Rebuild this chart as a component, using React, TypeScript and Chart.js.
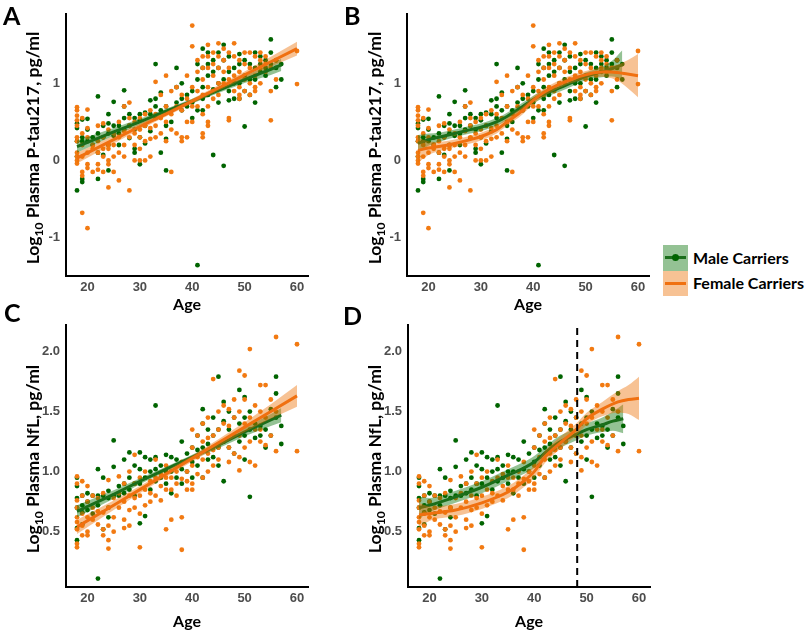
import React, { useEffect, useRef } from 'react';
import { Chart, registerables } from 'chart.js';
Chart.register(...registerables);

// ---------- axis settings ----------
const ageRange = [15.9, 62.1];
const ageTicks = [20, 30, 40, 50, 60];
const ptauRange = [-1.5, 1.9];
const ptauTicks = [-1, 0, 1];
const ptauTickLabels = ['-1', '0', '1'];
const nflRange = [0.04, 2.22];
const nflTicks = [0.5, 1.0, 1.5, 2.0];
const nflTickLabels = ['0.5', '1.0', '1.5', '2.0'];
const nflThresholdAge = 48.2;

type Col = [number, number[]];
type FitRow = [number, number, number]; // age, fit, half-width of CI

// ---------- P-tau217 observations ----------
const ptauMale: Col[] = [
  [18, [0.48, 0.42, 0.25, 0.05, -0.39]],
  [19, [0.53, 0.30, 0.25, -0.24, -0.28]],
  [20, [0.54, 0.40, 0.25]],
  [21, [0.30, 0.20]],
  [22, [0.83, 0.35, 0.10, -0.24]],
  [23, [0.45, 0.30, 0.07]],
  [24, [0.60, 0.48, 0.35, 0.20, -0.13]],
  [25, [0.76, 0.45, 0.32]],
  [26, [0.45, 0.35, 0.20]],
  [27, [0.91, 0.70, 0.55, 0.40]],
  [28, [0.60, 0.45, 0.29]],
  [29, [0.55, 0.40, 0.15, 0.10]],
  [30, [0.60, 0.52, 0.30, -0.05]],
  [31, [0.62, 0.45, 0.22]],
  [32, [0.78, 0.60, 0.38]],
  [33, [1.25, 0.80, 0.70, 0.55]],
  [34, [0.88, 0.65, 0.10]],
  [35, [0.70, 0.45, 0.28, -0.13]],
  [36, [0.65, 0.50]],
  [37, [1.20, 0.95, 0.75]],
  [38, [1.00, 0.80, 0.65]],
  [39, [0.85, 0.70]],
  [40, [0.90, 0.75, 0.55]],
  [41, [1.25, 1.05, 0.65, -1.36]],
  [42, [1.45, 1.20, 0.95, 0.80, 0.65]],
  [43, [1.40, 1.25, 1.10, 0.85]],
  [44, [1.30, 1.15, 0.92, 0.07]],
  [45, [1.40, 1.20, 1.00, 0.75]],
  [46, [1.50, 1.30, 1.05, -0.07]],
  [47, [1.35, 1.15, 0.90, 0.78]],
  [48, [1.20, 1.00, 0.80]],
  [49, [1.38, 1.25, 1.00, 0.80]],
  [50, [1.30, 1.10, 0.90, 0.44]],
  [51, [1.25, 1.05, 0.85]],
  [52, [1.40, 1.20, 1.05, 0.75]],
  [53, [1.35, 1.25, 1.15]],
  [54, [1.30, 1.20, 1.10]],
  [55, [1.57, 1.40, 1.25]],
  [56, [1.30, 1.20, 0.95]],
  [57, [1.25, 1.05]],
];

const ptauFemale: Col[] = [
  [18, [0.69, 0.65, 0.58, 0.52, 0.45, 0.30, 0.25, 0.10, 0.05, 0.0, -0.04]],
  [19, [0.55, 0.35, 0.20, 0.05, -0.15, -0.20, -0.68]],
  [20, [0.66, 0.42, 0.30, 0.10, -0.05, -0.10, -0.88]],
  [21, [0.20, 0.15, -0.15]],
  [22, [0.45, 0.25, 0.10, -0.05, -0.12]],
  [23, [0.48, 0.30, 0.15, 0.05, -0.15]],
  [24, [0.40, 0.20, 0.15, 0.0, -0.05, -0.35]],
  [25, [0.35, 0.20, 0.05, -0.15]],
  [26, [0.50, 0.30, 0.10, -0.26]],
  [27, [0.70, 0.38, 0.20, 0.05]],
  [28, [0.75, 0.55, 0.45, 0.30, -0.39]],
  [29, [0.50, 0.35, 0.20, 0.0]],
  [30, [0.55, 0.40, 0.30, 0.15, 0.0]],
  [31, [0.60, 0.45, 0.25, 0.0]],
  [32, [0.65, 0.42, 0.28, 0.05]],
  [33, [1.02, 0.60, 0.45, 0.30]],
  [34, [0.85, 0.55, 0.35]],
  [35, [1.10, 0.70, 0.50, 0.25]],
  [36, [0.90, 0.60, 0.40, -0.15]],
  [37, [0.95, 0.70, 0.35]],
  [38, [0.85, 0.65, 0.30, 0.25]],
  [39, [1.10, 0.80, 0.50, 0.30]],
  [40, [1.75, 1.48, 0.95, 0.70, 0.50]],
  [41, [1.30, 1.15, 0.90, 0.70]],
  [42, [1.35, 1.20, 1.05, 0.85, 0.60, 0.35, 0.30]],
  [43, [1.50, 1.35, 1.20, 0.95, 0.70, 0.50, 0.45]],
  [44, [1.40, 1.25, 1.10, 0.90, 0.80]],
  [45, [1.52, 1.35, 1.20, 1.00, 0.85]],
  [46, [1.45, 1.30, 1.15, 1.00]],
  [47, [1.40, 1.20, 1.05, 0.55, 0.52]],
  [48, [1.52, 1.35, 1.10, 0.90]],
  [49, [1.30, 1.15, 0.95, 0.85, 0.80]],
  [50, [1.40, 1.25, 1.05, 0.90]],
  [51, [1.40, 1.20, 1.00, 0.85]],
  [52, [1.35, 1.10, 0.95, 0.90]],
  [53, [1.40, 1.30, 1.20, 1.00]],
  [54, [1.35, 1.25, 1.15]],
  [55, [1.20, 0.90, 0.52]],
  [56, [1.30, 1.05]],
  [60, [1.42, 0.99]],
];

// ---------- NfL observations ----------
const nflMale: Col[] = [
  [18, [0.95, 0.88, 0.78, 0.70, 0.53, 0.43]],
  [19, [0.80, 0.72, 0.66, 0.56]],
  [20, [0.82, 0.75, 0.68]],
  [21, [0.80, 0.65]],
  [22, [1.02, 0.80, 0.72, 0.11]],
  [23, [0.95, 0.80, 0.52]],
  [24, [0.84, 0.78, 0.70, 0.62]],
  [25, [1.26, 1.04, 0.80]],
  [26, [0.88, 0.80]],
  [27, [1.10, 0.90, 0.82]],
  [28, [1.16, 0.95, 0.85]],
  [29, [1.05, 0.90, 0.80]],
  [30, [1.16, 1.02, 0.90, 0.57]],
  [31, [1.12, 0.95, 0.63]],
  [32, [1.10, 1.00, 0.85]],
  [33, [1.55, 1.12, 1.02, 0.92]],
  [34, [1.05, 0.95]],
  [35, [1.14, 1.00, 0.90]],
  [36, [1.12, 1.00, 0.82]],
  [37, [1.10, 0.95]],
  [38, [1.25, 1.02, 0.90]],
  [39, [1.15, 1.00]],
  [40, [1.20, 1.08, 0.95]],
  [41, [1.30, 1.18, 1.05]],
  [42, [1.52, 1.40, 1.20, 0.95]],
  [43, [1.35, 1.23, 1.10]],
  [44, [1.45, 1.30, 1.12]],
  [45, [1.79, 1.35, 1.20, 1.05]],
  [46, [1.58, 1.42, 1.25, 0.92]],
  [47, [1.50, 1.35, 1.20]],
  [48, [1.45, 1.30, 1.15]],
  [49, [1.68, 1.40, 1.25]],
  [50, [1.62, 1.45, 1.30, 1.10]],
  [51, [1.50, 1.35, 0.79]],
  [52, [1.40, 1.28]],
  [53, [1.38, 1.30]],
  [54, [1.35, 1.20]],
  [55, [1.52, 1.30]],
  [56, [1.79, 1.65, 1.45]],
  [57, [1.38, 1.23]],
];

const nflFemale: Col[] = [
  [18, [0.96, 0.90, 0.76, 0.70, 0.62, 0.58, 0.52, 0.40, 0.37]],
  [19, [0.92, 0.80, 0.65, 0.55, 0.47]],
  [20, [0.88, 0.75, 0.62, 0.50, 0.47]],
  [21, [0.80, 0.70, 0.60]],
  [22, [0.78, 0.67, 0.56]],
  [23, [0.82, 0.66, 0.52, 0.47]],
  [24, [0.93, 0.70, 0.55, 0.43, 0.36]],
  [25, [0.78, 0.62, 0.50]],
  [26, [0.96, 0.82, 0.70]],
  [27, [0.90, 0.75, 0.60, 0.53]],
  [28, [1.00, 0.80, 0.68, 0.55]],
  [29, [1.14, 0.90, 0.78, 0.70]],
  [30, [0.95, 0.80, 0.65, 0.37]],
  [31, [1.00, 0.85, 0.72]],
  [32, [0.92, 0.82, 0.75]],
  [33, [1.10, 0.95, 0.80]],
  [34, [0.98, 0.88, 0.76]],
  [35, [1.05, 0.95, 0.85, 0.52]],
  [36, [0.95, 0.85, 0.60]],
  [37, [1.00, 0.90, 0.80]],
  [38, [1.08, 0.94, 0.62, 0.35]],
  [39, [1.00, 0.92, 0.85]],
  [40, [1.35, 1.20, 1.05, 0.90, 0.85]],
  [41, [1.30, 1.12, 0.98]],
  [42, [1.40, 1.25, 1.10, 0.95]],
  [43, [1.45, 1.28, 1.15, 1.00]],
  [44, [1.77, 1.30, 1.18, 1.05]],
  [45, [1.50, 1.35, 1.20, 1.10]],
  [46, [1.55, 1.40, 1.25]],
  [47, [1.52, 1.38, 1.20, 1.08]],
  [48, [1.60, 1.45, 1.30, 1.15]],
  [49, [1.84, 1.50, 1.30, 1.12, 1.01]],
  [50, [1.80, 1.60, 1.40, 1.20]],
  [51, [2.02, 1.45, 1.25, 1.08]],
  [52, [1.55, 1.35, 1.05]],
  [53, [1.72, 1.50, 1.35, 1.25]],
  [54, [1.72, 1.45, 1.22]],
  [55, [1.60, 1.30]],
  [56, [2.12, 1.50, 1.17]],
  [60, [2.06, 1.17]],
];

// ---------- fitted curves (age, fit, CI half-width) ----------
const ptauLinearMale: FitRow[] = [
  [18, 0.18, 0.08], [25, 0.37, 0.05], [30, 0.50, 0.04], [35, 0.64, 0.03], [40, 0.77, 0.03],
  [45, 0.91, 0.035], [50, 1.05, 0.045], [55, 1.18, 0.07], [57, 1.24, 0.08],
];
const ptauLinearFemale: FitRow[] = [
  [18, 0.03, 0.07], [25, 0.27, 0.05], [30, 0.44, 0.04], [35, 0.60, 0.03], [40, 0.77, 0.03],
  [45, 0.94, 0.035], [50, 1.11, 0.045], [55, 1.28, 0.065], [60, 1.45, 0.09],
];
const ptauSmoothMale: FitRow[] = [
  [18, 0.22, 0.11], [20, 0.27, 0.08], [22, 0.30, 0.06], [25, 0.35, 0.05], [28, 0.40, 0.05],
  [30, 0.43, 0.05], [33, 0.50, 0.05], [35, 0.57, 0.05], [38, 0.70, 0.05], [40, 0.79, 0.05],
  [42, 0.86, 0.05], [45, 0.94, 0.05], [48, 1.03, 0.05], [50, 1.09, 0.05], [52, 1.13, 0.06],
  [55, 1.19, 0.10], [57, 1.24, 0.19],
];
const ptauSmoothFemale: FitRow[] = [
  [18, 0.13, 0.16], [20, 0.16, 0.09], [22, 0.18, 0.06], [25, 0.22, 0.05], [28, 0.27, 0.05],
  [30, 0.31, 0.05], [33, 0.40, 0.05], [35, 0.50, 0.05], [38, 0.65, 0.05], [40, 0.78, 0.05],
  [42, 0.88, 0.05], [45, 0.99, 0.05], [48, 1.07, 0.05], [50, 1.11, 0.05], [52, 1.14, 0.05],
  [54, 1.15, 0.07], [56, 1.14, 0.10], [58, 1.12, 0.18], [60, 1.10, 0.28],
];
const nflLinearMale: FitRow[] = [
  [18, 0.67, 0.05], [25, 0.81, 0.035], [30, 0.92, 0.025], [35, 1.02, 0.02], [40, 1.12, 0.02],
  [45, 1.22, 0.025], [50, 1.33, 0.035], [55, 1.43, 0.05], [57, 1.47, 0.06],
];
const nflLinearFemale: FitRow[] = [
  [18, 0.54, 0.06], [25, 0.72, 0.04], [30, 0.85, 0.03], [35, 0.98, 0.025], [40, 1.11, 0.025],
  [45, 1.24, 0.03], [50, 1.37, 0.04], [55, 1.50, 0.06], [60, 1.63, 0.09],
];
const nflSmoothMale: FitRow[] = [
  [18, 0.70, 0.09], [20, 0.72, 0.06], [25, 0.79, 0.05], [30, 0.87, 0.05], [35, 0.97, 0.05],
  [38, 1.03, 0.05], [40, 1.08, 0.05], [43, 1.19, 0.05], [45, 1.25, 0.05], [48, 1.31, 0.05],
  [50, 1.35, 0.05], [53, 1.39, 0.06], [55, 1.42, 0.08], [57, 1.44, 0.12],
];
const nflSmoothFemale: FitRow[] = [
  [18, 0.64, 0.10], [20, 0.65, 0.06], [25, 0.68, 0.05], [30, 0.74, 0.05], [35, 0.83, 0.05],
  [38, 0.92, 0.05], [40, 1.00, 0.05], [42, 1.12, 0.05], [45, 1.24, 0.05], [48, 1.35, 0.05],
  [50, 1.44, 0.05], [53, 1.52, 0.06], [56, 1.58, 0.09], [58, 1.60, 0.12], [60, 1.61, 0.18],
];

// ---------- styles ----------
const maleColor = '#006400';
const femaleColor = '#F27A12';
const maleLine = '#1B6E1B';
const femaleLine = '#F07010';
const maleBand = 'rgba(0,110,0,0.42)';
const femaleBand = 'rgba(235,110,0,0.42)';
const tickFont = { family: 'Liberation Sans, Arial, sans-serif', weight: 'bold' as const, size: 13 };
const titleFamily = 'Lato';

const pts = (cols: Col[]) => cols.flatMap(([a, vs]) => vs.map((v) => ({ x: a, y: v })));

function buildDatasets(male: Col[], female: Col[], mFit: FitRow[], fFit: FitRow[], smooth: boolean, vline: number | null, yr: number[]) {
  const curve = smooth ? { tension: 0.4, cubicInterpolationMode: 'monotone' as const } : { tension: 0 };
  const ds: any[] = [];
  ds.push({ data: pts(male), showLine: false, pointRadius: 2.4, pointBackgroundColor: maleColor, pointBorderWidth: 0, order: 9 });
  ds.push({ data: pts(female), showLine: false, pointRadius: 2.4, pointBackgroundColor: femaleColor, pointBorderWidth: 0, order: 8 });
  const mLo = ds.length;
  ds.push({ data: mFit.map(([a, f, h]) => ({ x: a, y: f - h })), borderWidth: 0, pointRadius: 0, fill: false, order: 7, ...curve });
  ds.push({ data: mFit.map(([a, f, h]) => ({ x: a, y: f + h })), borderWidth: 0, pointRadius: 0, fill: mLo, backgroundColor: maleBand, order: 6, ...curve });
  ds.push({ data: mFit.map(([a, f]) => ({ x: a, y: f })), borderWidth: 3, borderColor: maleLine, pointRadius: 0, fill: false, order: 5, ...curve });
  const fLo = ds.length;
  ds.push({ data: fFit.map(([a, f, h]) => ({ x: a, y: f - h })), borderWidth: 0, pointRadius: 0, fill: false, order: 4, ...curve });
  ds.push({ data: fFit.map(([a, f, h]) => ({ x: a, y: f + h })), borderWidth: 0, pointRadius: 0, fill: fLo, backgroundColor: femaleBand, order: 3, ...curve });
  ds.push({ data: fFit.map(([a, f]) => ({ x: a, y: f })), borderWidth: 3, borderColor: femaleLine, pointRadius: 0, fill: false, order: 2, ...curve });
  if (vline !== null) {
    ds.push({ data: [{ x: vline, y: yr[0] }, { x: vline, y: yr[1] }], borderWidth: 2, borderColor: '#000', borderDash: [7, 5], pointRadius: 0, fill: false, order: 1 });
  }
  return ds;
}

type PanelProps = {
  left: number; top: number; width: number; height: number;
  yAxisWidth: number; xAxisHeight: number; padTop: number; padRight: number;
  letter: string; letterX: number; letterY: number; titleX: number; titleRest: string;
  male: Col[]; female: Col[]; mFit: FitRow[]; fFit: FitRow[]; smooth: boolean; vline: number | null;
  yRange: number[]; yTicks: number[]; yLabels: string[];
};

function Panel(p: PanelProps) {
  const ref = useRef<HTMLCanvasElement>(null);
  useEffect(() => {
    if (!ref.current) return;
    const decor = {
      id: 'decor',
      afterDraw(chart: any) {
        const { ctx, chartArea } = chart;
        ctx.save();
        ctx.fillStyle = '#000';
        ctx.textBaseline = 'alphabetic';
        ctx.textAlign = 'left';
        ctx.font = `bold 25px ${titleFamily}`;
        ctx.fillText(p.letter, p.letterX, p.letterY);
        const big = `bold 17.5px ${titleFamily}`;
        const small = `bold 12px ${titleFamily}`;
        ctx.font = big;
        const w1 = ctx.measureText('Log').width;
        const w3 = ctx.measureText(p.titleRest).width;
        ctx.font = small;
        const w2 = ctx.measureText('10').width;
        const total = w1 + w2 + w3;
        const cy = (chartArea.top + chartArea.bottom) / 2 + 3;
        ctx.translate(p.titleX, cy);
        ctx.rotate(-Math.PI / 2);
        let x = -total / 2;
        ctx.font = big;
        ctx.fillText('Log', x, 6);
        x += w1;
        ctx.font = small;
        ctx.fillText('10', x, 10);
        x += w2;
        ctx.font = big;
        ctx.fillText(p.titleRest, x, 6);
        ctx.restore();
      },
    };
    const chart = new Chart(ref.current, {
      type: 'line',
      data: { datasets: buildDatasets(p.male, p.female, p.mFit, p.fFit, p.smooth, p.vline, p.yRange) },
      options: {
        responsive: false,
        animation: false,
        events: [],
        layout: { padding: { top: p.padTop, right: p.padRight, left: 0, bottom: 0 } },
        plugins: { legend: { display: false }, tooltip: { enabled: false } },
        scales: {
          x: {
            type: 'linear',
            min: ageRange[0],
            max: ageRange[1],
            afterBuildTicks: (s: any) => { s.ticks = ageTicks.map((v) => ({ value: v })); },
            afterFit: (s: any) => { s.height = p.xAxisHeight; },
            grid: { display: false, drawTicks: false },
            border: { display: true, color: '#000', width: 2 },
            ticks: { font: tickFont, color: '#4D4D4D', padding: 4, callback: (v: any) => String(v) },
            title: { display: true, text: 'Age', color: '#000', font: { family: titleFamily, weight: 'bold', size: 16 }, padding: 0 },
          },
          y: {
            type: 'linear',
            min: p.yRange[0],
            max: p.yRange[1],
            afterBuildTicks: (s: any) => { s.ticks = p.yTicks.map((v) => ({ value: v })); },
            afterFit: (s: any) => { s.width = p.yAxisWidth; },
            grid: { display: false, drawTicks: false },
            border: { display: true, color: '#000', width: 2 },
            ticks: { font: tickFont, color: '#4D4D4D', padding: 6, callback: (_v: any, i: number) => p.yLabels[i] },
          },
        },
      },
      plugins: [decor],
    } as any);
    return () => chart.destroy();
  }, []);
  return (
    <canvas ref={ref} width={p.width} height={p.height}
      style={{ position: 'absolute', left: p.left, top: p.top, width: p.width, height: p.height }} />
  );
}

const ptauTitle = ' Plasma P-tau217, pg/ml';
const nflTitle = ' Plasma NfL, pg/ml';

export default function App() {
  const legendText: React.CSSProperties = { position: 'absolute', left: 693, fontFamily: titleFamily, fontWeight: 'bold', fontSize: 16, color: '#000', lineHeight: '20px', whiteSpace: 'nowrap' };
  return (
    <div style={{ position: 'fixed', left: 0, top: 0, width: 806, height: 632, background: '#fff', overflow: 'hidden' }}>
      <Panel left={0} top={0} width={330} height={314} yAxisWidth={66} xAxisHeight={38} padTop={14} padRight={22}
        letter="A" letterX={3} letterY={25} titleX={33} titleRest={ptauTitle}
        male={ptauMale} female={ptauFemale} mFit={ptauLinearMale} fFit={ptauLinearFemale} smooth={false} vline={null}
        yRange={ptauRange} yTicks={ptauTicks} yLabels={ptauTickLabels} />
      <Panel left={336} top={0} width={320} height={314} yAxisWidth={71} xAxisHeight={38} padTop={14} padRight={7}
        letter="B" letterX={8} letterY={25} titleX={39} titleRest={ptauTitle}
        male={ptauMale} female={ptauFemale} mFit={ptauSmoothMale} fFit={ptauSmoothFemale} smooth={true} vline={null}
        yRange={ptauRange} yTicks={ptauTicks} yLabels={ptauTickLabels} />
      <Panel left={0} top={300} width={330} height={331} yAxisWidth={66} xAxisHeight={44} padTop={25} padRight={22}
        letter="C" letterX={4} letterY={22} titleX={33} titleRest={nflTitle}
        male={nflMale} female={nflFemale} mFit={nflLinearMale} fFit={nflLinearFemale} smooth={false} vline={null}
        yRange={nflRange} yTicks={nflTicks} yLabels={nflTickLabels} />
      <Panel left={337} top={300} width={320} height={331} yAxisWidth={71} xAxisHeight={44} padTop={25} padRight={7}
        letter="D" letterX={6} letterY={25} titleX={38} titleRest={nflTitle}
        male={nflMale} female={nflFemale} mFit={nflSmoothMale} fFit={nflSmoothFemale} smooth={true} vline={nflThresholdAge}
        yRange={nflRange} yTicks={nflTicks} yLabels={nflTickLabels} />
      {/* legend */}
      <div style={{ position: 'absolute', left: 663, top: 245, width: 25, height: 26, background: maleBand }} />
      <div style={{ position: 'absolute', left: 665, top: 256, width: 21, height: 3, background: maleLine }} />
      <div style={{ position: 'absolute', left: 672, top: 254, width: 7, height: 7, borderRadius: 4, background: maleColor }} />
      <div style={{ position: 'absolute', left: 663, top: 271, width: 25, height: 25, background: femaleBand }} />
      <div style={{ position: 'absolute', left: 665, top: 282, width: 21, height: 3, background: femaleLine }} />
      <div style={{ ...legendText, top: 248 }}>Male Carriers</div>
      <div style={{ ...legendText, top: 273 }}>Female Carriers</div>
    </div>
  );
}
